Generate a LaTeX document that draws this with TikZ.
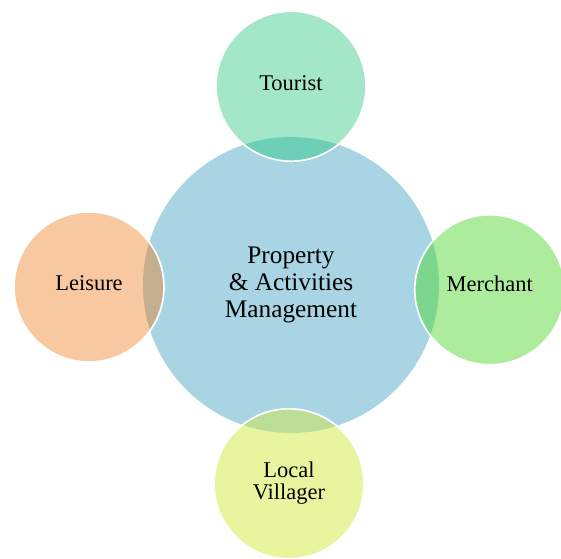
\documentclass[tikz,border=0pt]{standalone}
\usepackage{fontspec}
\setmainfont{Liberation Serif}

\definecolor{hubblue}{HTML}{A8D4E3}
\definecolor{touristcol}{HTML}{A3E6C8}
\definecolor{touristov}{HTML}{6CCFB6}
\definecolor{leisurecol}{HTML}{F8C9A0}
\definecolor{leisureov}{HTML}{C4AE8D}
\definecolor{merchantcol}{HTML}{ADEC9C}
\definecolor{merchantov}{HTML}{7DD68E}
\definecolor{villagercol}{HTML}{E8F59E}
\definecolor{villagerov}{HTML}{BCDD96}

\tikzset{
  hub/.style={circle, fill=hubblue, minimum size=7.4cm, inner sep=0pt, align=center,
    font=\fontsize{18}{19.5}\selectfont},
  sat/.style={circle, minimum size=3.75cm, inner sep=0pt, align=center,
    font=\fontsize{16}{15.5}\selectfont}
}

\begin{document}
\begin{tikzpicture}
        \useasboundingbox (-7.275,-6.85) rectangle (6.75,7.125);

        % Cerchio centrale
        \node[hub] (pam) at (0,0) {};

        % Cerchi esterni
        \node[sat, fill=touristcol] (tourist) at (0,4.97) {};
        \node[sat, fill=leisurecol] (leisure) at (-5.05,-0.05) {};
        \node[sat, fill=merchantcol] (merchant) at (4.97,-0.12) {};
        \node[sat, fill=villagercol] (villager) at (-0.05,-4.97) {};

        % Zone di sovrapposizione
        \foreach \s/\c in {tourist/touristov, leisure/leisureov, merchant/merchantov, villager/villagerov}{
            \begin{scope}
                \clip (\s.center) circle (1.875);
                \fill[\c] (pam.center) circle (3.7);
            \end{scope}
            \draw[white, line width=1.2pt] (\s.center) circle (1.875);
        }

        % Testi
        \node[font=\fontsize{18}{19.5}\selectfont, align=center] at (pam.center) {Property\\\& Activities\\Management};
        \node[font=\fontsize{16}{15.5}\selectfont] at ([yshift=0.08cm]tourist.center) {Tourist};
        \node[font=\fontsize{16}{15.5}\selectfont] at ([yshift=0.1cm]leisure.center) {Leisure};
        \node[font=\fontsize{16}{15.5}\selectfont] at ([yshift=0.15cm]merchant.center) {Merchant};
        \node[font=\fontsize{16}{15.5}\selectfont, align=center] at ([yshift=0.02cm]villager.center) {Local\\Villager};
    \end{tikzpicture}
\end{document}
